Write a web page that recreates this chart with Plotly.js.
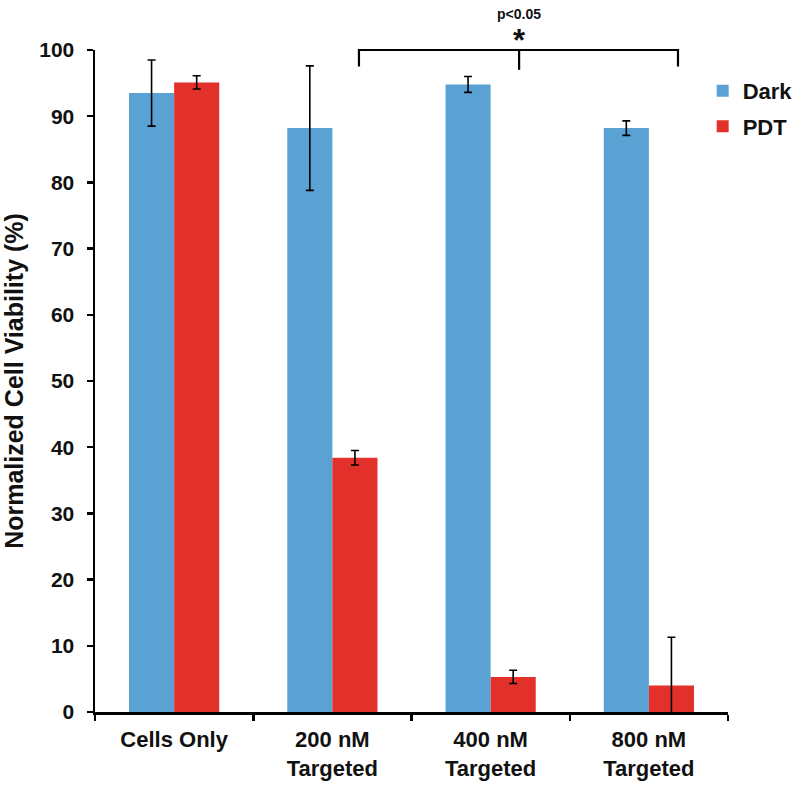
<!DOCTYPE html>
<html>
<head>
<meta charset="utf-8">
<script src="https://cdn.plot.ly/plotly-3.0.1.min.js"></script>
<style>html,body{margin:0;padding:0;background:#fff;}#chart{width:800px;height:790px;}</style>
</head>
<body>
<div id="chart"></div>
<script>
const categories = ["Cells Only", "200 nM<br>Targeted", "400 nM<br>Targeted", "800 nM<br>Targeted"];
const darkValues = [93.5, 88.2, 94.8, 88.2];
const darkErrors = [5.0, 9.4, 1.2, 1.1];
const pdtValues = [95.1, 38.4, 5.3, 4.0];
const pdtErrors = [1.0, 1.1, 1.0, 7.3];
const yTicks = [0, 10, 20, 30, 40, 50, 60, 70, 80, 90, 100];

const FONT = "Liberation Sans, Arial, sans-serif";
const errStyle = {type: "data", visible: true, color: "#000", thickness: 1.6, width: 4};

const traces = [
  {type: "bar", name: "<b>Dark</b>", x: categories, y: darkValues, legendgroup: "a",
   marker: {color: "#5AA2D4"},
   error_y: Object.assign({array: darkErrors}, errStyle)},
  {type: "bar", name: "<b>PDT</b>", x: categories, y: pdtValues, legendgroup: "b",
   marker: {color: "#E1312A"},
   error_y: Object.assign({array: pdtErrors}, errStyle)}
];

const layout = {
  width: 800, height: 790,
  margin: {l: 95, r: 72, t: 50, b: 78, autoexpand: false},
  paper_bgcolor: "#fff", plot_bgcolor: "#fff",
  barmode: "group", bargap: 0.43, bargroupgap: 0,
  font: {family: FONT, color: "#000"},
  showlegend: true,
  legend: {x: 0.96, y: 0.97, xanchor: "left", yanchor: "top",
    font: {family: FONT, size: 22, color: "#111"},
    traceorder: "grouped", tracegroupgap: 4, itemwidth: 30, bgcolor: "rgba(0,0,0,0)"},
  xaxis: {type: "category", categoryorder: "array", categoryarray: categories,
    tickvals: categories, ticktext: categories.map(c => "<b>" + c + "</b>"),
    showline: true, linecolor: "#000", linewidth: 2.5,
    ticks: "outside", tickson: "boundaries", ticklen: 6, tickwidth: 2.5, tickcolor: "#000",
    ticklabelstandoff: 6,
    tickfont: {family: FONT, size: 22, color: "#111"}, showgrid: false, zeroline: false},
  yaxis: {range: [0, 100], tickvals: yTicks, ticktext: yTicks.map(v => "<b>" + v + "</b>"),
    showline: true, linecolor: "#000", linewidth: 2.5,
    ticks: "outside", ticklen: 6, tickwidth: 2.5, tickcolor: "#000", ticklabelstandoff: 8,
    tickfont: {family: FONT, size: 21, color: "#111"}, showgrid: false, zeroline: false,
    title: {text: "<b>Normalized Cell Viability (%)</b>", font: {family: FONT, size: 25, color: "#111"}, standoff: 12}},
  shapes: [
    {type: "path", xref: "x", yref: "paper", path: "M 1.168 0.975 L 1.168 1.0 L 3.184 1.0 L 3.184 0.975",
     line: {color: "#000", width: 2.2}},
    {type: "line", xref: "x", yref: "paper", x0: 2.18, x1: 2.18, y0: 1.0, y1: 0.97,
     line: {color: "#000", width: 2.2}}
  ],
  annotations: [
    {xref: "x", yref: "paper", x: 2.18, y: 1.0, yshift: 10, text: "<b>*</b>", showarrow: false,
     font: {family: FONT, size: 31, color: "#111"}, yanchor: "middle"},
    {xref: "x", yref: "paper", x: 2.18, y: 1.0, yshift: 36, text: "<b>p<0.05</b>", showarrow: false,
     font: {family: FONT, size: 14, color: "#111"}, yanchor: "middle"}
  ]
};

Plotly.newPlot("chart", traces, layout, {displayModeBar: false, staticPlot: true});
</script>
</body>
</html>
